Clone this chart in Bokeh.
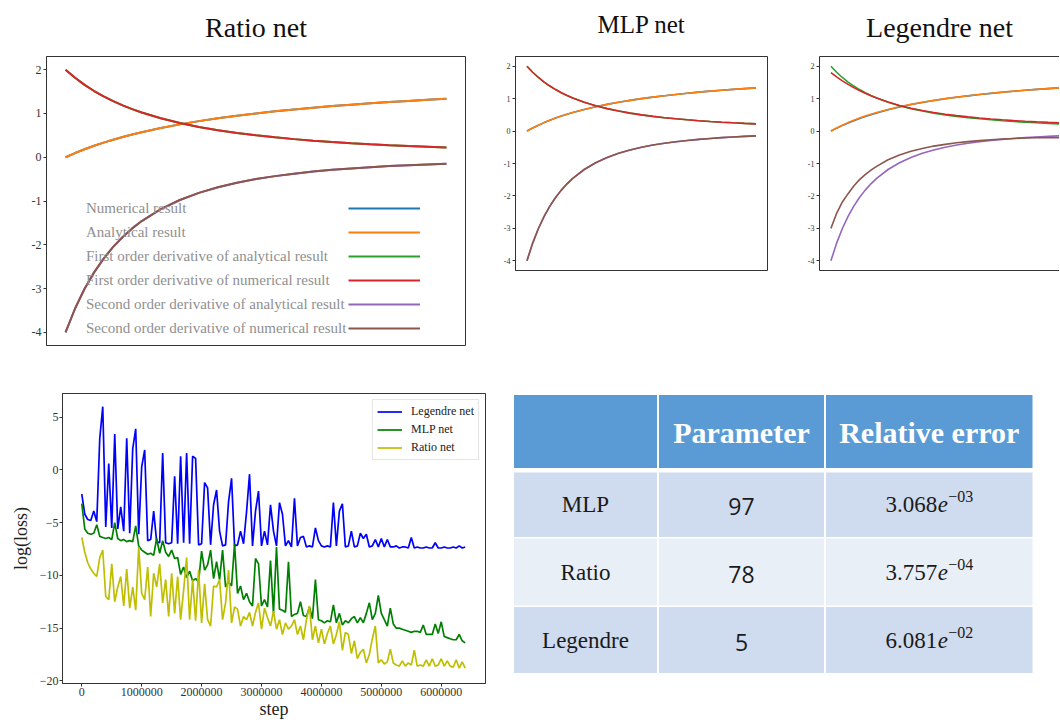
from bokeh.plotting import figure
from bokeh.layouts import column, row
from bokeh.models import (Range1d, Title, Legend, LegendItem, FixedTicker, SingleIntervalTicker,
                          CustomJSTickFormatter, BasicTickFormatter, LinearAxis, ColumnDataSource)
from bokeh.core.properties import value
from bokeh.embed import file_html
from bokeh.resources import INLINE

SERIF = "Liberation Serif"
AX = "#333333"

# ---------------- data: solution curves (top row) ----------------
x_vals = [0, 0.05, 0.1, 0.15, 0.2, 0.25, 0.3, 0.35, 0.4, 0.5, 0.6, 0.7, 0.8, 0.9, 1.0,
          1.1, 1.2, 1.3, 1.4, 1.5, 1.6, 1.7, 1.8, 1.9, 2.0]
ana_y = [0.0, 0.095, 0.182, 0.261, 0.333, 0.4, 0.462, 0.519, 0.571, 0.667, 0.75, 0.824, 0.889,
         0.947, 1.0, 1.048, 1.091, 1.13, 1.167, 1.2, 1.231, 1.259, 1.286, 1.31, 1.333]
ana_d1 = [2.0, 1.814, 1.653, 1.512, 1.389, 1.28, 1.183, 1.097, 1.02, 0.889, 0.781, 0.692, 0.617,
          0.554, 0.5, 0.454, 0.413, 0.378, 0.347, 0.32, 0.296, 0.274, 0.255, 0.238, 0.222]
ana_d2 = [-4.0, -3.455, -3.005, -2.63, -2.315, -2.048, -1.821, -1.626, -1.458, -1.185, -0.977,
          -0.814, -0.686, -0.583, -0.5, -0.432, -0.376, -0.329, -0.289, -0.256, -0.228, -0.203,
          -0.182, -0.164, -0.148]
# Ratio net and MLP net numerical results coincide with the analytical curves
ratio_num_y, ratio_num_d1, ratio_num_d2 = ana_y, ana_d1, ana_d2
mlp_num_y, mlp_num_d1, mlp_num_d2 = ana_y, ana_d1, ana_d2
# Legendre net numerical results
leg_num_y = [0.0, 0.09, 0.175, 0.252, 0.322, 0.388, 0.449, 0.506, 0.559, 0.657, 0.742, 0.817,
             0.883, 0.942, 0.995, 1.043, 1.087, 1.127, 1.164, 1.198, 1.229, 1.258, 1.285, 1.31, 1.334]
leg_num_d1 = [1.8, 1.67, 1.55, 1.44, 1.34, 1.25, 1.165, 1.09, 1.02, 0.895, 0.79, 0.705, 0.632,
              0.572, 0.52, 0.476, 0.437, 0.403, 0.373, 0.347, 0.323, 0.302, 0.284, 0.27, 0.258]
leg_num_d2 = [-3.0, -2.535, -2.185, -1.93, -1.695, -1.498, -1.341, -1.206, -1.088, -0.885, -0.737,
              -0.624, -0.536, -0.463, -0.41, -0.362, -0.326, -0.294, -0.269, -0.246, -0.228,
              -0.213, -0.202, -0.204, -0.208]
series_labels = ["Numerical result", "Analytical result",
                 "First order derivative of analytical result",
                 "First order derivative of numerical result",
                 "Second order derivative of analytical result",
                 "Second order derivative of numerical result"]
y_ticks_top = [-4, -3, -2, -1, 0, 1, 2]
panel_titles = ["Ratio net", "MLP net", "Legendre net"]

# ---------------- data: training loss ----------------
loss_steps = list(range(0, 6400001, 50000))
legendre_loss = [
    -2.3, -4.2, -4.7, -4.8, -3.9, -4.9, 3.0, 6.0, -5.4, 0.6,
    -5.5, 3.4, -5.6, -3.5, -5.8, 3.0, -6.0, 2.0, 3.9, -6.1,
    0.3, 1.9, -6.7, -6.6, -3.9, -6.8, -6.9, 1.6, -6.9, -7.0,
    -6.9, -0.6, -7.0, 1.3, -6.9, 1.6, -7.0, 1.3, 1.1, -7.1,
    -7.0, -1.2, -1.7, -7.1, -3.3, -1.9, -5.8, -7.2, -7.1, -3.0,
    -0.8, -7.2, -7.1, -5.8, -7.0, -4.0, -0.4, -7.2, -3.9, -2.0,
    -7.2, -5.8, -7.1, -3.3, -5.8, -7.2, -3.1, -4.2, -7.2, -6.7,
    -7.3, -2.7, -7.2, -6.4, -6.3, -7.3, -7.2, -7.3, -5.5, -6.7,
    -7.2, -7.3, -7.2, -7.3, -3.1, -7.2, -3.9, -3.2, -7.3, -7.2,
    -5.8, -7.3, -7.2, -6.0, -6.5, -6.1, -7.3, -7.2, -6.6, -7.3,
    -6.5, -7.3, -6.6, -7.3, -7.3, -7.2, -7.4, -7.3, -7.3, -7.4,
    -6.4, -7.4, -7.3, -7.4, -7.4, -7.3, -7.4, -7.4, -6.9, -7.4,
    -7.4, -7.3, -7.4, -7.4, -7.3, -7.4, -7.2, -7.4, -7.3]
mlp_loss = [
    -3.2, -5.6, -6.0, -6.1, -6.0, -5.2, -6.3, -6.4, -6.5, -6.4,
    -6.6, -5.0, -6.5, -6.7, -6.6, -6.8, -6.7, -6.8, -5.3, -7.2,
    -7.6, -7.8, -8.0, -7.9, -8.1, -6.5, -7.9, -6.7, -7.8, -8.2,
    -7.6, -8.4, -8.3, -9.9, -9.2, -10.2, -9.6, -10.5, -10.3, -10.6,
    -7.7, -9.5, -9.0, -7.6, -10.3, -8.7, -10.4, -7.6, -11.1, -10.6,
    -11.0, -7.0, -11.7, -11.0, -12.3, -11.7, -12.5, -12.9, -8.4, -8.9,
    -12.9, -12.3, -13.0, -8.6, -13.6, -7.3, -13.2, -13.3, -13.5, -8.7,
    -13.9, -13.7, -13.6, -12.5, -13.8, -13.9, -13.0, -14.1, -10.4, -14.2,
    -14.3, -14.5, -14.3, -14.4, -12.8, -14.5, -13.6, -14.7, -14.3, -14.5,
    -14.1, -13.9, -14.5, -14.0, -14.5, -13.6, -12.6, -14.2, -13.6, -11.9,
    -13.6, -14.2, -14.8, -13.1, -14.6, -15.0, -15.0, -15.1, -15.2, -15.3,
    -15.4, -15.3, -15.3, -15.4, -14.7, -15.6, -15.6, -15.6, -14.6, -15.5,
    -14.4, -15.8, -15.9, -16.0, -16.1, -16.1, -15.6, -16.2, -16.4]
ratio_loss = [
    -6.4, -7.8, -8.8, -9.4, -9.8, -10.1, -8.3, -7.6, -12.0, -12.3,
    -8.9, -12.5, -11.1, -10.1, -12.9, -9.4, -13.1, -11.1, -13.3, -7.3,
    -11.7, -12.3, -9.2, -13.9, -9.8, -11.1, -8.9, -12.6, -10.4, -13.9,
    -9.8, -13.6, -10.1, -14.2, -11.4, -8.3, -14.2, -10.4, -14.3, -9.5,
    -14.5, -10.8, -14.2, -14.8, -11.0, -11.1, -10.4, -14.2, -12.6, -9.5,
    -14.5, -13.0, -13.2, -14.8, -13.9, -14.2, -13.5, -14.8, -13.5, -12.6,
    -15.1, -13.1, -14.0, -14.8, -13.4, -15.1, -14.2, -15.6, -14.5, -15.1,
    -14.8, -14.2, -15.6, -14.8, -16.1, -14.2, -12.9, -16.1, -14.8, -16.4,
    -15.1, -16.5, -15.5, -14.8, -16.5, -15.6, -14.4, -17.1, -15.4, -15.6,
    -17.4, -16.2, -17.9, -17.3, -17.0, -18.3, -17.5, -16.0, -14.8, -18.3,
    -18.0, -18.4, -18.2, -17.0, -18.3, -18.5, -18.6, -18.1, -18.6, -18.3,
    -18.5, -17.1, -18.6, -18.5, -18.6, -18.0, -18.6, -17.9, -18.6, -18.5,
    -17.9, -18.6, -18.1, -18.6, -18.7, -18.0, -18.8, -18.2, -18.8]
loss_labels = ["Legendre net", "MLP net", "Ratio net"]

# ---------------- data: table ----------------
table_header = ["Parameter", "Relative error"]
model_names = ["MLP", "Ratio", "Legendre"]
param_counts = [97, 78, 5]
rel_errors = [3.068e-03, 3.757e-04, 6.081e-02]

# ---------------- styles ----------------
COLORS6 = ["#1f77b4", "#ff7f0e", "#2ca02c", "#d62728", "#9467bd", "#8c564b"]
LOSS_COLORS = ["#0000ff", "#008000", "#bfbf00"]
HYPHEN_FMT = "return '' + tick;"


def top_panel(width, height, bl, br, x_end, curves, lw, tick_px, title, t_offset, tpx, lift,
              box=True, edges=False):
    p = figure(width=width, height=height, x_range=Range1d(-0.1, x_end),
               y_range=Range1d(-4.3, 2.3),
               x_axis_location=None, output_backend="svg", toolbar_location=None,
               min_border_left=bl, min_border_right=br, min_border_top=56, min_border_bottom=15)
    if edges:
        for loc in ("above", "below"):
            edge = LinearAxis(ticker=FixedTicker(ticks=[]), major_tick_out=0, major_tick_in=0,
                              minor_tick_out=0, minor_tick_in=0, major_label_standoff=0,
                              axis_label_standoff=0, major_label_text_font_size="0px",
                              axis_line_color=AX)
            p.add_layout(edge, loc)
    # spacer between frame and title (lifts the title)
    p.add_layout(Title(text=" ", text_font_size="1px", standoff=lift), "above")
    p.title = Title(text=title, align="center", offset=t_offset, text_font=SERIF,
                    text_font_size=f"{tpx}px", text_font_style="normal", text_color="#111111",
                    standoff=0)
    p.xgrid.grid_line_color = None
    p.ygrid.grid_line_color = None
    p.background_fill_color = "white"
    p.border_fill_color = "white"
    p.outline_line_color = AX if box else None
    ax = p.yaxis[0]
    ax.ticker = FixedTicker(ticks=y_ticks_top)
    ax.formatter = CustomJSTickFormatter(code=HYPHEN_FMT)
    ax.minor_tick_line_color = None
    ax.major_tick_in = 0
    ax.major_tick_out = 3
    ax.major_label_standoff = 2
    ax.major_label_text_font = SERIF
    ax.major_label_text_font_size = f"{tick_px}px"
    ax.major_label_text_color = AX
    ax.axis_line_color = AX
    ax.major_tick_line_color = AX
    rs = [p.line(x_vals, ys, line_color=c, line_width=lw) for ys, c in zip(curves, COLORS6)]
    return p, rs


pA, rA = top_panel(490, 360, 46, 25, 2.1,
                   [ratio_num_y, ana_y, ana_d1, ratio_num_d1, ana_d2, ratio_num_d2],
                   2, 12, panel_titles[0], -24.5, 28, 11)
leg_text = Legend(items=[LegendItem(label=lab, renderers=[r]) for lab, r in zip(series_labels, rA)],
                  location=(40, 7), glyph_width=0, label_standoff=0, padding=0, spacing=4,
                  label_height=20, glyph_height=20, background_fill_alpha=0, border_line_alpha=0,
                  label_text_font=SERIF, label_text_font_size="15px", label_text_color="#8f8f8f")
leg_lines = Legend(items=[LegendItem(label=" ", renderers=[r]) for r in rA],
                   location=(302, 7), glyph_width=72, label_standoff=0, padding=0, spacing=4,
                   label_height=20, glyph_height=20, background_fill_alpha=0, border_line_alpha=0,
                   label_text_font_size="4px")
pA.add_layout(leg_text)
pA.add_layout(leg_lines)

pB, rB = top_panel(300, 285, 25, 23, 2.1,
                   [mlp_num_y, ana_y, ana_d1, mlp_num_d1, ana_d2, mlp_num_d2],
                   1.6, 8, panel_titles[1], -4, 25, 16)

pC, rC = top_panel(269, 285, 29, 0, 2.0,
                   [leg_num_y, ana_y, ana_d1, leg_num_d1, ana_d2, leg_num_d2],
                   1.6, 8, panel_titles[2], 3.5, 28, 11, box=False, edges=True)

# ---------------- loss panel ----------------
BOT_TOP, BOT_BOTTOM, BOT_H = 33, 40, 363
pD = figure(width=500, height=BOT_H, x_range=Range1d(-322000, 6739000),
            y_range=Range1d(-20.25, 7.25),
            output_backend="svg", toolbar_location=None,
            min_border_left=62, min_border_right=15, min_border_top=BOT_TOP,
            min_border_bottom=BOT_BOTTOM)
pD.xgrid.grid_line_color = None
pD.ygrid.grid_line_color = None
pD.outline_line_color = AX
loss_rs = [pD.line(loss_steps, ys, line_color=c, line_width=1.7)
           for ys, c in zip([legendre_loss, mlp_loss, ratio_loss], LOSS_COLORS)]
for ax in (pD.xaxis[0], pD.yaxis[0]):
    ax.minor_tick_line_color = None
    ax.major_tick_in = 0
    ax.major_tick_out = 3
    ax.major_label_standoff = 1
    ax.major_label_text_font = SERIF
    ax.major_label_text_font_size = "12px"
    ax.major_label_text_color = AX
    ax.axis_line_color = AX
    ax.major_tick_line_color = AX
    ax.axis_label_text_font = SERIF
    ax.axis_label_text_font_size = "18px"
    ax.axis_label_text_font_style = "normal"
    ax.axis_label_text_color = "#222222"
    ax.axis_label_standoff = 0
pD.xaxis[0].ticker = SingleIntervalTicker(interval=1000000, num_minor_ticks=0)
pD.xaxis[0].formatter = BasicTickFormatter(use_scientific=False)
pD.yaxis[0].ticker = SingleIntervalTicker(interval=5, num_minor_ticks=0)
pD.yaxis[0].formatter = CustomJSTickFormatter(
    code="return tick < 0 ? '\\u2212' + (-tick) : '' + tick;")
pD.xaxis[0].axis_label = "step"
pD.yaxis[0].axis_label = "log(loss)"
pD.yaxis[0].axis_label_standoff = 6
loss_leg = Legend(items=[LegendItem(label=lab, renderers=[r]) for lab, r in zip(loss_labels, loss_rs)],
                  location="top_right", margin=6, padding=4, spacing=3, label_height=13,
                  glyph_height=13, glyph_width=25, label_standoff=9,
                  label_text_font=SERIF, label_text_font_size="12px", label_text_color="#222222",
                  border_line_color="#cccccc", background_fill_alpha=0.85)
pD.add_layout(loss_leg)

# ---------------- table panel ----------------
ROW2_Y = 360
frame_top = ROW2_Y + BOT_TOP
frame_bottom = ROW2_Y + BOT_H - BOT_BOTTOM
pE = figure(width=550, height=BOT_H, x_range=Range1d(500, 1050),
            y_range=Range1d(frame_bottom, frame_top),
            x_axis_location=None, y_axis_location=None, output_backend="svg",
            toolbar_location=None, min_border_left=0, min_border_right=0,
            min_border_top=BOT_TOP, min_border_bottom=BOT_BOTTOM)
pE.xgrid.grid_line_color = None
pE.ygrid.grid_line_color = None
pE.outline_line_color = None
col_edges = [(513.5, 656.5), (658.5, 823.5), (825.5, 1032.0)]
row_edges = [(394.5, 467.5), (472.0, 536.5), (538.0, 605.0), (606.5, 672.5)]
row_fills = ["#5b9bd5", "#cfdbee", "#e9eff7", "#cfdbee"]
cells = dict(left=[], right=[], top=[], bottom=[], fill=[])
for (t, b), f in zip(row_edges, row_fills):
    for (l, r) in col_edges:
        cells["left"].append(l)
        cells["right"].append(r)
        cells["top"].append(t)
        cells["bottom"].append(b)
        cells["fill"].append(f)
pE.quad(left="left", right="right", top="top", bottom="bottom", fill_color="fill",
        line_color=None, source=ColumnDataSource(cells))
cx = [(l + r) / 2 for l, r in col_edges]
cy = [(t + b) / 2 for t, b in row_edges]
pE.text(x=cx[1:], y=[cy[0] + 1] * 2, text=table_header, text_font=value(SERIF),
        text_font_size=value("30px"), text_font_style="bold", text_color="white",
        text_align="center", text_baseline="middle")
pE.text(x=[cx[0]] * 3, y=cy[1:], text=model_names, text_font=value(SERIF),
        text_font_size=value("23px"), text_color="#1a1a1a", text_align="center",
        text_baseline="middle")
pE.text(x=[cx[1]] * 3, y=[c + 2 for c in cy[1:]], text=[str(n) for n in param_counts],
        text_font=value("Open Sans"), text_font_size=value("23px"), text_color="#1a1a1a",
        text_align="center", text_baseline="middle")
mant, expo = [], []
for v in rel_errors:
    m, e = f"{v:.3e}".split("e")
    mant.append(m)
    expo.append(e.replace("-", "\u2212"))
anchor = cx[2] + 8
pE.text(x=[anchor] * 3, y=cy[1:], text=mant, text_font=value(SERIF),
        text_font_size=value("23px"), text_color="#1a1a1a", text_align="right",
        text_baseline="middle")
pE.text(x=[anchor + 0.5] * 3, y=cy[1:], text=["e"] * 3, text_font=value(SERIF),
        text_font_size=value("23px"), text_font_style="italic", text_color="#1a1a1a",
        text_align="left", text_baseline="middle")
pE.text(x=[anchor + 11] * 3, y=[c - 8 for c in cy[1:]], text=expo, text_font=value(SERIF),
        text_font_size=value("16px"), text_color="#1a1a1a", text_align="left",
        text_baseline="middle")

layout = column(row(pA, pB, pC), row(pD, pE))
open("out.html", "w").write(file_html(layout, INLINE))
